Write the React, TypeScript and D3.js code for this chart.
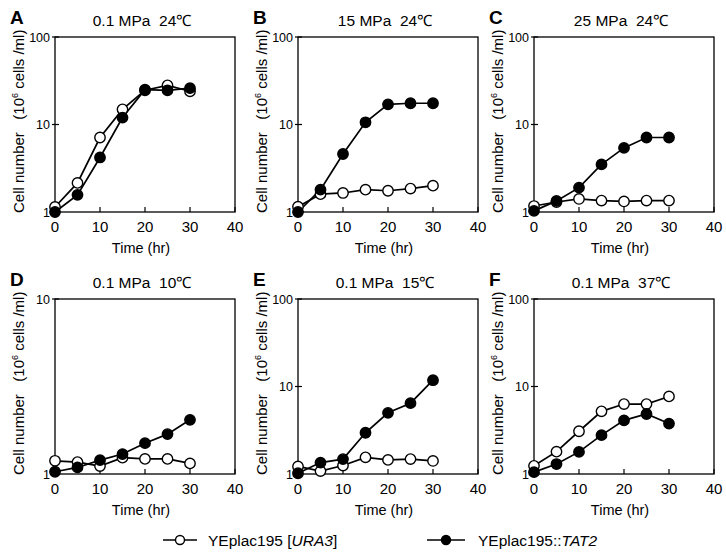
import React, { useEffect, useRef } from "react";
import * as d3 from "d3";

const times = [0, 5, 10, 15, 20, 25, 30];
const xTicks = [0, 10, 20, 30, 40];
const panelLetters = ["A", "B", "C", "D", "E", "F"];
const panelTitles = [
  "0.1 MPa  24\u2103",
  "15 MPa  24\u2103",
  "25 MPa  24\u2103",
  "0.1 MPa  10\u2103",
  "0.1 MPa  15\u2103",
  "0.1 MPa  37\u2103",
];
const yMax = [100, 100, 100, 10, 100, 100];
// YEplac195 [URA3] (open circles)
const ura3 = [
  [1.14, 2.15, 7.1, 14.9, 24.6, 28, 24],
  [1.15, 1.6, 1.65, 1.8, 1.75, 1.85, 2.0],
  [1.17, 1.3, 1.41, 1.35, 1.32, 1.35, 1.35],
  [1.19, 1.17, 1.11, 1.24, 1.22, 1.22, 1.15],
  [1.22, 1.08, 1.25, 1.55, 1.45, 1.48, 1.41],
  [1.24, 1.8, 3.08, 5.2, 6.3, 6.3, 7.7],
];
// YEplac195::TAT2 (filled circles)
const tat2 = [
  [1.0, 1.57, 4.2, 12, 25, 24.6, 26],
  [1.0, 1.8, 4.6, 10.6, 17, 17.5, 17.5],
  [1.03, 1.34, 1.9, 3.5, 5.4, 7.1, 7.1],
  [1.03, 1.09, 1.2, 1.3, 1.5, 1.69, 2.04],
  [1.02, 1.35, 1.48, 2.96, 5.0, 6.45, 11.8],
  [1.05, 1.3, 1.79, 2.78, 4.1, 4.85, 3.77],
];

const FONT = "Arial, 'Liberation Sans', Helvetica, sans-serif";

export default function App() {
  const svgRef = useRef<SVGSVGElement>(null);

  useEffect(() => {
    const root = d3.select(svgRef.current);
    root.selectAll("*").remove();

    const boxW = 180;
    const boxH = 175;
    const lefts = [55, 298, 534];
    const tops = [37, 299];

    panelLetters.forEach((letter, i) => {
      const left = lefts[i % 3];
      const top = tops[Math.floor(i / 3)];
      const g = root.append("g").attr("transform", `translate(${left},${top})`);

      const x = d3.scaleLinear().domain([0, 40]).range([0, boxW]);
      const y = d3.scaleLog().domain([1, yMax[i]]).range([boxH, 0]);
      const yTicks = yMax[i] === 100 ? [1, 10, 100] : [1, 10];

      // panel letter and title
      g.append("text")
        .attr("x", -45)
        .attr("y", -13)
        .attr("font-size", 19)
        .attr("font-weight", "bold")
        .text(letter);
      g.append("text")
        .attr("x", boxW / 2 - 3)
        .attr("y", -11)
        .attr("text-anchor", "middle")
        .attr("font-size", 15.5)
        .style("white-space", "pre")
        .text(panelTitles[i]);

      // frame
      g.append("rect")
        .attr("width", boxW)
        .attr("height", boxH)
        .attr("fill", "none")
        .attr("stroke", "#000")
        .attr("stroke-width", 1.3);

      // y ticks
      yTicks.forEach((t) => {
        g.append("line")
          .attr("x1", -3)
          .attr("x2", 4)
          .attr("y1", y(t))
          .attr("y2", y(t))
          .attr("stroke", "#000")
          .attr("stroke-width", 1.2);
        g.append("text")
          .attr("x", -5)
          .attr("y", y(t) + 4.5)
          .attr("text-anchor", "end")
          .attr("font-size", 12.5)
          .text(t);
      });

      // x ticks
      xTicks.forEach((t) => {
        g.append("line")
          .attr("x1", x(t))
          .attr("x2", x(t))
          .attr("y1", boxH)
          .attr("y2", boxH - 5)
          .attr("stroke", "#000")
          .attr("stroke-width", 1.2);
        g.append("text")
          .attr("x", x(t))
          .attr("y", boxH + 20)
          .attr("text-anchor", "middle")
          .attr("font-size", 15)
          .text(t);
      });

      g.append("text")
        .attr("x", boxW / 2 - 4)
        .attr("y", boxH + 41)
        .attr("text-anchor", "middle")
        .attr("font-size", 14.5)
        .text("Time (hr)");

      // y label
      const yl = g
        .append("text")
        .attr("transform", `translate(-31,${boxH + 1}) rotate(-90)`)
        .attr("font-size", 15)
        .style("white-space", "pre");
      yl.append("tspan").text("Cell number   (10");
      yl.append("tspan").attr("font-size", 9).attr("dy", -6).text("6");
      yl.append("tspan").attr("dy", 6).text(" cells /ml)");

      const line = d3
        .line<number>()
        .x((d, j) => x(times[j]))
        .y((d) => y(d));

      [ura3[i], tat2[i]].forEach((s) => {
        g.append("path")
          .attr("d", line(s))
          .attr("fill", "none")
          .attr("stroke", "#000")
          .attr("stroke-width", 1.7);
      });

      g.selectAll(".open")
        .data(ura3[i])
        .enter()
        .append("circle")
        .attr("cx", (d, j) => x(times[j]))
        .attr("cy", (d) => y(d))
        .attr("r", 5.2)
        .attr("fill", "#fff")
        .attr("stroke", "#000")
        .attr("stroke-width", 1.4);

      g.selectAll(".filled")
        .data(tat2[i])
        .enter()
        .append("circle")
        .attr("cx", (d, j) => x(times[j]))
        .attr("cy", (d) => y(d))
        .attr("r", 5.2)
        .attr("fill", "#000")
        .attr("stroke", "#000")
        .attr("stroke-width", 1.4);
    });

    // Legend
    const legendY = 540;
    const items = [
      { x1: 163, x2: 197, fill: "#fff", tx: 208, pre: "YEplac195 [", it: "URA3", post: "]" },
      { x1: 427, x2: 465, fill: "#000", tx: 478, pre: "YEplac195::", it: "TAT2", post: "" },
    ];
    items.forEach((d) => {
      root
        .append("line")
        .attr("x1", d.x1)
        .attr("x2", d.x2)
        .attr("y1", legendY)
        .attr("y2", legendY)
        .attr("stroke", "#000")
        .attr("stroke-width", 1.7);
      root
        .append("circle")
        .attr("cx", (d.x1 + d.x2) / 2)
        .attr("cy", legendY)
        .attr("r", 4.5)
        .attr("fill", d.fill)
        .attr("stroke", "#000")
        .attr("stroke-width", 1.4);
      const t = root
        .append("text")
        .attr("x", d.tx)
        .attr("y", legendY + 5.5)
        .attr("font-size", 15.5);
      t.append("tspan").text(d.pre);
      t.append("tspan").attr("font-style", "italic").text(d.it);
      if (d.post) t.append("tspan").text(d.post);
    });
  }, []);

  return (
    <svg
      ref={svgRef}
      width={726}
      height={554}
      style={{ position: "absolute", left: 0, top: 0, background: "#fff", fontFamily: FONT }}
    />
  );
}
